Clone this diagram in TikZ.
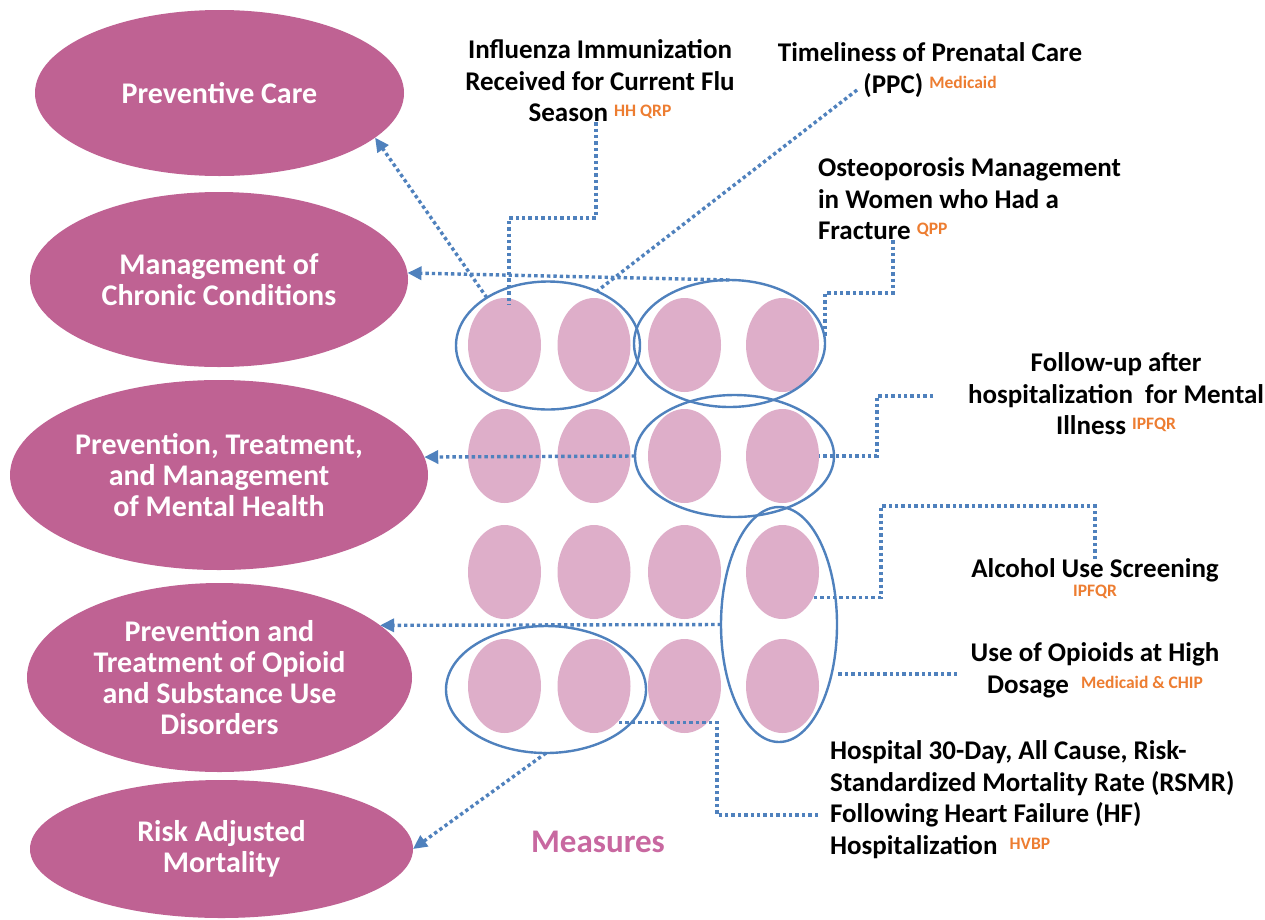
\documentclass[tikz,border=0pt]{standalone}
\usepackage{fontspec}
\setmainfont{Carlito}
\usetikzlibrary{shapes.geometric,arrows.meta,calc}
\definecolor{mag}{RGB}{191,98,147}
\definecolor{lpink}{RGB}{222,174,201}
\definecolor{bl}{RGB}{79,129,189}
\definecolor{org}{RGB}{237,125,49}
\definecolor{meas}{RGB}{200,104,160}
\newcommand{\orgfont}{\fontsize{17.5}{17.5}\selectfont\bfseries\color{org}}
\newcommand{\orgsup}[1]{\raisebox{5pt}{\orgfont #1}}
\begin{document}
\begin{tikzpicture}[x=1pt,y=-1pt,
  bigell/.style={ellipse, fill=mag, inner sep=0pt, outer sep=0pt, text=white,
    font=\bfseries\fontsize{30}{31}\selectfont, align=center},
  small/.style={ellipse, fill=lpink, minimum width=73pt, minimum height=94pt, inner sep=0pt, outer sep=0pt},
  grp/.style={ellipse, draw=bl, line width=2.4pt, inner sep=0pt, outer sep=0pt},
  lbl/.style={font=\bfseries\fontsize{27}{31.5}\selectfont, inner sep=0pt, outer sep=0pt, text=black},
  conn/.style={draw=bl, line width=3.4pt, dash pattern=on 3.4pt off 3pt},
  arr/.style={conn, -{Triangle[length=14pt,width=13pt]}}]
\useasboundingbox (0,0) rectangle (1265,919);
\fill[white] (0,0) rectangle (1265,919);

% categories
\node[bigell, minimum width=369pt, minimum height=166pt] (E1) at (219.5,93) {Preventive Care};
\node[bigell, minimum width=378pt, minimum height=175pt] (E2) at (219,279.5) {Management of\\Chronic Conditions};
\node[bigell, minimum width=418pt, minimum height=190pt] (E3) at (219,475) {Prevention, Treatment,\\and Management\\of Mental Health};
\node[bigell, minimum width=385pt, minimum height=189pt] (E4) at (219.5,677.5) {Prevention and\\Treatment of Opioid\\and Substance Use\\Disorders};
\node[bigell, minimum width=383pt, minimum height=138pt] (E5) at (221.5,849) {Risk Adjusted\\Mortality};

% measure grid
\foreach \r/\yy in {1/345,2/456,3/572,4/686}
  \foreach \c/\xx in {1/504.5,2/594,3/684.5,4/782.5}
    \node[small] (s\r\c) at (\xx,\yy) {};

% groups
\node[grp, minimum width=184pt, minimum height=128pt] (g1) at (548,345.5) {};
\node[grp, minimum width=191pt, minimum height=127pt] (g2) at (729.5,343.5) {};
\node[grp, minimum width=199pt, minimum height=122pt] (g3) at (734.5,456) {};
\node[grp, minimum width=116pt, minimum height=235pt] (g4) at (779,624.5) {};
\node[grp, minimum width=200pt, minimum height=127pt] (g5) at (546,689.5) {};

% labels
\node[lbl, anchor=north, align=center] (flu) at (600,40) {Influenza Immunization\\Received for Current Flu\\Season \orgsup{HH QRP}};
\node[lbl, anchor=north, align=center] (ppc) at (930,43) {Timeliness of Prenatal Care\\(PPC) \orgsup{Medicaid}};
\node[lbl, anchor=north west, align=left] (ost) at (818,158) {Osteoporosis Management\\in Women who Had a\\Fracture \orgsup{QPP}};
\node[lbl, anchor=north, align=center] (fu) at (1116,353) {Follow-up after\\hospitalization\ \ for Mental\\Illness \orgsup{IPFQR}};
\node[lbl, anchor=north, align=center] (alc) at (1095,559) {Alcohol Use Screening};
\node[anchor=north, inner sep=0pt, font=\orgfont] (alcT) at (1095,585) {IPFQR};
\node[lbl, anchor=north, align=center] (opi) at (1095,643) {Use of Opioids at High\\Dosage\ \ \orgsup{Medicaid \& CHIP}};
\node[lbl, anchor=north west, align=left] (hosp) at (830,741) {Hospital 30-Day, All Cause, Risk-\\Standardized Mortality Rate (RSMR)\\Following Heart Failure (HF)\\Hospitalization\ \ \orgsup{HVBP}};
\node[font=\bfseries\fontsize{33}{33}\selectfont, text=meas, anchor=base, inner sep=0pt] (meas) at (598,852) {Measures};

% connectors
\coordinate (fluA) at (596,218);
\draw[conn] (flu.south -| fluA) -- (fluA) -| ([xshift=4.5pt,yshift=-7pt]s11.north);
\coordinate (ppcA) at (857,90);
\draw[conn] (ppcA) -- (g1.48);
\coordinate (ostA) at (893,293);
\draw[conn] (ost.south -| ostA) -- (ostA) -| ([yshift=5pt]g2.east);
\draw[arr] (g1.142) -- (E1.-16);
\draw[arr] (g2.north) -- (E2.2);
\coordinate (fuA) at (933,396);
\draw[conn] (fuA) -- ++(-56,0) |- (s24.east);
\draw[arr] (g3.west) -- (E3.5);
\coordinate (alB) at (881,506);
\draw[conn] (alc.north) |- (alB) |- (s34.-40);
\coordinate (opA) at (957,674);
\draw[conn] (opA) -- (opA -| g4.east);
\draw[arr] (g4.west) -- (E4.18);
\coordinate (hoA) at (818,815);
\coordinate (hoB) at (717,815);
\draw[conn] (hoA) -- (hoB) |- (s42.-58);
\draw[arr] (g5.south) -- (E5.east);
\end{tikzpicture}
\end{document}
